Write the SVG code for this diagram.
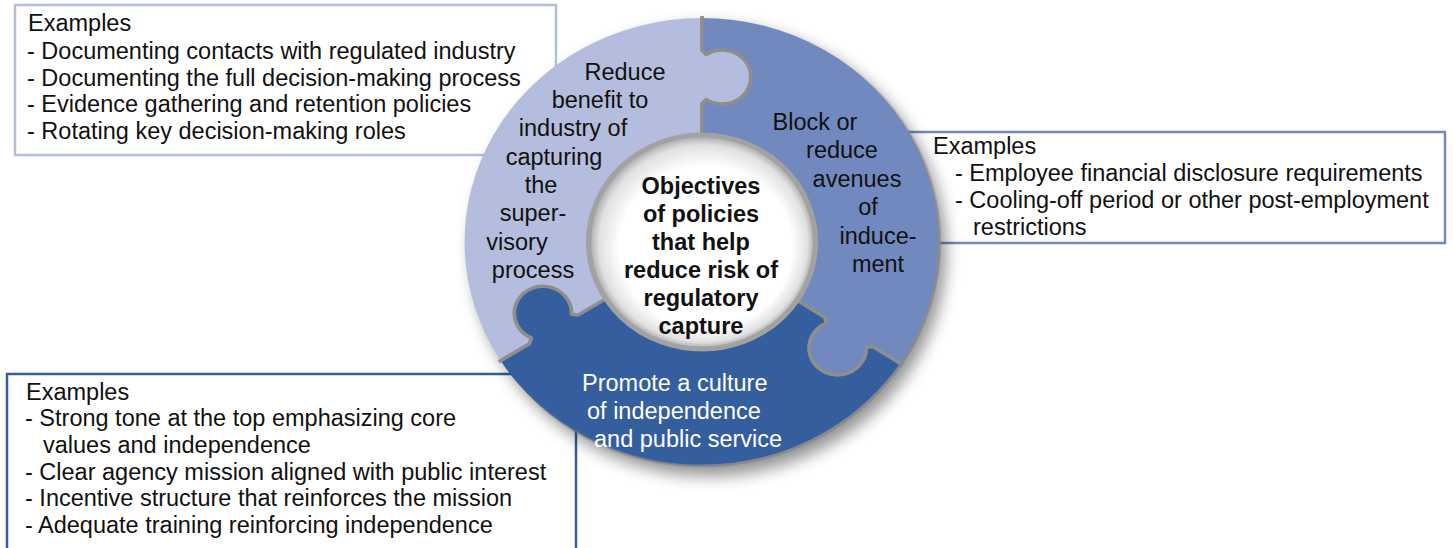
<svg xmlns="http://www.w3.org/2000/svg" width="1453" height="548" viewBox="0 0 1453 548">
<defs>
  <filter id="soft" x="-20%" y="-20%" width="140%" height="140%">
    <feGaussianBlur stdDeviation="8"/>
  </filter>
  <radialGradient id="holeFill" cx="0.5" cy="0.5" r="0.5" fx="0.57" fy="0.6">
    <stop offset="0" stop-color="#ffffff"/>
    <stop offset="0.76" stop-color="#ffffff"/>
    <stop offset="0.92" stop-color="#e0e0e0"/>
    <stop offset="1" stop-color="#a4a4a4"/>
  </radialGradient>
  <linearGradient id="rimGrad" x1="0" y1="0" x2="1" y2="1">
    <stop offset="0.45" stop-color="#8a8a8a" stop-opacity="0"/>
    <stop offset="0.8" stop-color="#8a8a8a" stop-opacity="0.9"/>
    <stop offset="1" stop-color="#8a8a8a" stop-opacity="1"/>
  </linearGradient>
  <path id="jointPath" d="M104,0 L138,0 L142.6,4 A27 27 0 1 0 187.4,4 L192,0 L226,0"/>
</defs>
<style>
  .box{fill:#ffffff;stroke-width:2.5}
  .t{font-family:"Liberation Sans",Arial,Helvetica,sans-serif;font-size:23.5px;fill:#111111}
  .c{text-anchor:middle}
  .b{font-weight:bold}
  .w{fill:#ffffff}
  .joint{fill:none;stroke:#8e8e8e;stroke-width:3.5;stroke-linejoin:round}
</style>

<g id="box-reduce-benefit-examples">
  <rect class="box" x="15" y="5" width="541" height="150" stroke="#b4bddd"/>
  <text class="t" x="28" y="31">Examples</text>
  <text class="t" x="27" y="59">- Documenting contacts with regulated industry</text>
  <text class="t" x="27" y="86">- Documenting the full decision-making process</text>
  <text class="t" x="27" y="112">- Evidence gathering and retention policies</text>
  <text class="t" x="27" y="139">- Rotating key decision-making roles</text>
</g>

<g id="box-block-avenues-examples">
  <rect class="box" x="880" y="132" width="565" height="111" stroke="#7189be"/>
  <text class="t" x="933" y="154">Examples</text>
  <text class="t" x="955" y="181">- Employee financial disclosure requirements</text>
  <text class="t" x="955" y="208">- Cooling-off period or other post-employment</text>
  <text class="t" x="973" y="235">restrictions</text>
</g>

<g id="box-culture-examples">
  <rect class="box" x="7" y="374" width="569" height="200" stroke="#345e9d"/>
  <text class="t" x="26" y="400">Examples</text>
  <text class="t" x="25" y="426">- Strong tone at the top emphasizing core</text>
  <text class="t" x="43" y="453">values and independence</text>
  <text class="t" x="25" y="480">- Clear agency mission aligned with public interest</text>
  <text class="t" x="25" y="506">- Incentive structure that reinforces the mission</text>
  <text class="t" x="25" y="533">- Adequate training reinforcing independence</text>
</g>

<g id="ring-shadow">
  <ellipse cx="709" cy="251" rx="237" ry="225" fill="#000000" opacity="0.42" filter="url(#soft)"/>
</g>

<g id="node-reduce-benefit">
  <path transform="translate(702,242) scale(1.06,1)" fill="#b4bddd" d="M-88.20,55.11 L-117.03,73.13 L-123.05,72.18 A27 27 0 1 0 -161.04,95.92 L-162.83,101.74 L-189.96,118.70 A224 224 0 0 1 0,-224 L0,-192 L4,-187.4 A27 27 0 1 1 4,-142.6 L0,-138 L0,-104 A104 104 0 0 0 -88.20,55.11 Z"/>
</g>

<g id="node-block-avenues">
  <path transform="translate(702,242) scale(1.06,1)" fill="#7189be" d="M0,-104 L0,-138 L4,-142.6 A27 27 0 1 0 4,-187.4 L0,-192 L0,-224 A224 224 0 0 1 187.86,122.00 L161.02,104.57 L154.99,105.42 A27 27 0 1 1 117.41,81.02 L115.74,75.16 L87.22,56.64 A104 104 0 0 0 0,-104 Z"/>
</g>

<g id="node-promote-culture">
  <path transform="translate(702,242) scale(1.06,1)" fill="#345e9d" d="M87.22,56.64 L115.74,75.16 L117.41,81.02 A27 27 0 1 0 154.99,105.42 L161.02,104.57 L187.86,122.00 A224 224 0 0 1 -189.96,118.70 L-162.83,101.74 L-161.04,95.92 A27 27 0 1 1 -123.05,72.18 L-117.03,73.13 L-88.20,55.11 A104 104 0 0 0 87.22,56.64 Z"/>
</g>

<g id="ring-joints" transform="translate(702,242) scale(1.06,1)">
  <use href="#jointPath" class="joint" transform="rotate(-90)"/>
  <use href="#jointPath" class="joint" transform="rotate(33)"/>
  <use href="#jointPath" class="joint" transform="rotate(148)"/>
  <circle r="224" fill="none" stroke="url(#rimGrad)" stroke-width="3"/>
</g>

<g id="node-center">
  <circle transform="translate(702,242) scale(1.06,1)" r="107" fill="url(#holeFill)" stroke="#a2a2a2" stroke-width="5"/>
  <text class="t c b" x="701" y="194">Objectives</text>
  <text class="t c b" x="701" y="222">of policies</text>
  <text class="t c b" x="701" y="250">that help</text>
  <text class="t c b" x="701" y="278">reduce risk of</text>
  <text class="t c b" x="701" y="306">regulatory</text>
  <text class="t c b" x="701" y="334">capture</text>
</g>

<g id="labels-reduce-benefit">
  <text class="t c" x="625" y="80">Reduce</text>
  <text class="t c" x="600" y="108">benefit to</text>
  <text class="t c" x="573" y="136">industry of</text>
  <text class="t c" x="554" y="165">capturing</text>
  <text class="t c" x="541" y="193">the</text>
  <text class="t c" x="533" y="221">super-</text>
  <text class="t c" x="517" y="250">visory</text>
  <text class="t c" x="533" y="278">process</text>
</g>

<g id="labels-block-avenues">
  <text class="t c" x="815" y="130" fill="#1e1e1e">Block or</text>
  <text class="t c" x="842" y="158">reduce</text>
  <text class="t c" x="857" y="187">avenues</text>
  <text class="t c" x="868" y="215">of</text>
  <text class="t c" x="878" y="244">induce-</text>
  <text class="t c" x="878" y="272">ment</text>
</g>

<g id="labels-promote-culture">
  <text class="t w" x="582" y="391">Promote a culture</text>
  <text class="t w" x="587" y="419">of independence</text>
  <text class="t w" x="594" y="447">and public service</text>
</g>
</svg>
